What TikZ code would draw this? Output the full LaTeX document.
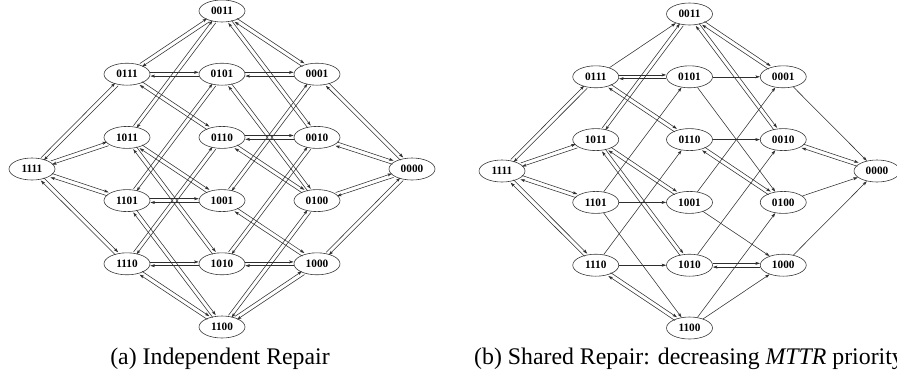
\documentclass[tikz,border=0pt]{standalone}
\usepackage{fontspec}
\setmainfont{Liberation Serif}
\usetikzlibrary{shapes.geometric,arrows.meta,calc}

\newcommand\statefont{\fontsize{11.3bp}{12bp}\selectfont\bfseries}
\newcommand\capfont{\fontsize{23.8bp}{26bp}\selectfont}

\tikzset{
  stnode/.style={ellipse, draw=black!78, line width=0.6bp, minimum width=46bp,
                 minimum height=22bp, inner sep=0pt, font=\statefont},
  arr/.style={draw=black!82, line width=0.55bp,
              -{Stealth[length=4.5bp,width=2.9bp,inset=0.9bp]}},
  caption/.style={anchor=base, font=\capfont},
}

% 16 states of a 4-component system, laid out by number of working components
\newcommand\placestates[5]{% prefix, x0, dx, y0, dy
  \foreach \s/\c/\r in {0011/2/0, 0111/1/1, 0101/2/1, 0001/3/1,
                        1011/1/2, 0110/2/2, 0010/3/2, 1111/0/2.5, 0000/4/2.5,
                        1101/1/3, 1001/2/3, 0100/3/3,
                        1110/1/4, 1010/2/4, 1000/3/4, 1100/2/5}
    \node[stnode] (#1\s) at ({#2+\c*#3}, {#4+\r*#5}) {\s};
}

% one arrow from border to border, moved sideways to the left of its direction
\newcommand\sidearrow[2]{%
  \draw[arr] let \p1=($(#2)-(#1)$), \n1={atan2(\y1,\x1)}, \n2={atan2(\y1,\x1)+180},
                 \n3={atan2(\y1,\x1)+90}
    in ($(#1.\n1)+(\n3:1.9bp)$) -- ($(#2.\n2)+(\n3:1.9bp)$);
}
% failure and repair between two states
\newcommand\twoway[2]{\sidearrow{#1}{#2}\sidearrow{#2}{#1}}
% failure only
\newcommand\oneway[2]{\draw[arr] (#1) -- (#2);}

\begin{document}
\begin{tikzpicture}[x=1bp, y=-1bp]
\useasboundingbox (0,0) rectangle (897,379);

% ---------- (a) independent repair ----------
\placestates{a}{32}{95}{11}{63.2}
\foreach \u/\v in {1111/0111, 1111/1011, 1111/1101, 1111/1110,
                   0111/0011, 0111/0101, 0111/0110,
                   1011/0011, 1011/1001, 1011/1010,
                   1101/0101, 1101/1001, 1101/1100,
                   1110/0110, 1110/1010, 1110/1100,
                   0011/0001, 0011/0010, 0101/0001, 0101/0100,
                   0110/0010, 0110/0100, 1001/0001, 1001/1000,
                   1010/0010, 1010/1000, 1100/0100, 1100/1000,
                   0001/0000, 0010/0000, 0100/0000, 1000/0000}
  {\twoway{a\u}{a\v}}
\node[caption] (capa) at (220,364) {(a) Independent Repair};

% ---------- (b) shared repair ----------
\placestates{b}{502}{93.75}{14}{62.8}
\foreach \u/\v in {1111/0111, 1111/1011, 1111/1101, 1111/1110,
                   0111/0101, 0111/0110, 1011/0011, 1011/1001, 1011/1010,
                   1110/1100, 0011/0001, 0011/0010, 0110/0100, 1010/1000,
                   0010/0000}
  {\twoway{b\u}{b\v}}
\foreach \u/\v in {0111/0011, 1101/0101, 1101/1001, 1101/1100,
                   1110/0110, 1110/1010, 0101/0001, 0101/0100,
                   0110/0010, 1001/0001, 1001/1000, 1010/0010,
                   1100/0100, 1100/1000, 0001/0000, 0100/0000, 1000/0000}
  {\oneway{b\u}{b\v}}
\node[caption] (capb) at (689,364) {(b) Shared Repair: decreasing \emph{MTTR} priority};
\end{tikzpicture}
\end{document}
